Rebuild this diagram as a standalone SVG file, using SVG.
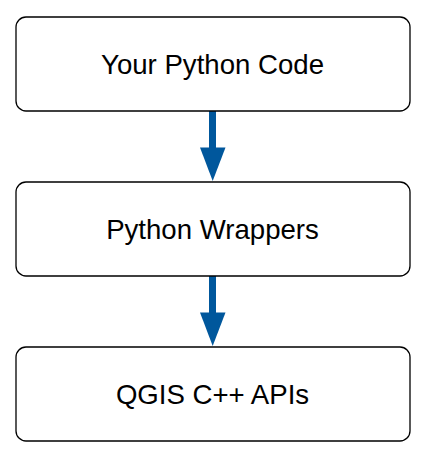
<svg xmlns="http://www.w3.org/2000/svg" width="424" height="458" viewBox="0 0 424 458">
<style>
.box{fill:#fff;stroke:#000;stroke-width:1.3}
.lbl{font-family:"Liberation Sans",Arial,sans-serif;font-size:27.6px;fill:#000;text-anchor:middle}
.shaft{stroke:#00579c;stroke-width:7;fill:none}
.head{fill:#00579c}
</style>
<rect width="424" height="458" fill="#fff"/>
<g id="connectors">
<line class="shaft" x1="212.5" y1="111" x2="212.5" y2="150"/>
<polygon class="head" points="200,147.5 225.5,147.5 212.7,181"/>
<line class="shaft" x1="212.5" y1="276" x2="212.5" y2="315"/>
<polygon class="head" points="200,312.5 225.5,312.5 212.7,346"/>
</g>
<g id="node1">
<rect class="box" x="16" y="17" width="394" height="94" rx="10"/>
<text class="lbl" x="212.5" y="74">Your Python Code</text>
</g>
<g id="node2">
<rect class="box" x="16" y="182" width="394" height="94" rx="10"/>
<text class="lbl" x="212.5" y="239">Python Wrappers</text>
</g>
<g id="node3">
<rect class="box" x="16" y="347" width="394" height="94" rx="10"/>
<text class="lbl" x="212.5" y="404">QGIS C++ APIs</text>
</g>
</svg>
